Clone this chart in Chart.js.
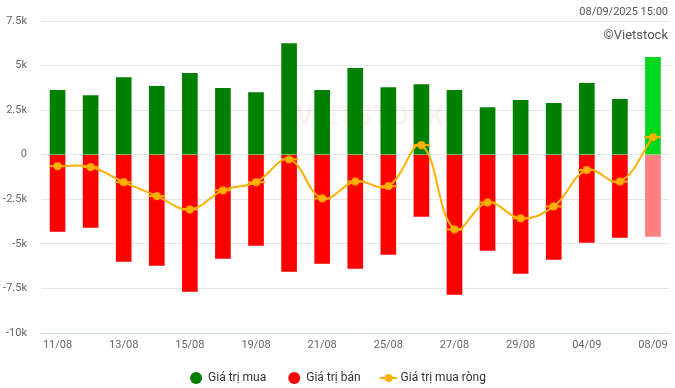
<!DOCTYPE html>
<html>
<head>
<meta charset="utf-8">
<script src="https://cdn.jsdelivr.net/npm/chart.js@4"></script>
<style>
  body { margin: 0; background: #fff; }
  #wrap { width: 675px; height: 388px; position: relative; }
</style>
</head>
<body>
<div id="wrap"><canvas id="chart"></canvas></div>
<script>
const dates = ["11/08", "12/08", "13/08", "14/08", "15/08", "18/08", "19/08", "20/08", "21/08", "22/08",
	"25/08", "26/08", "27/08", "28/08", "29/08", "03/09", "04/09", "05/09", "08/09"];
const buyValues = [3610, 3320, 4330, 3830, 4560, 3720, 3490, 6240, 3610, 4840,
	3770, 3940, 3610, 2650, 3050, 2880, 4000, 3100, 5460];
const sellValues = [-4300, -4080, -5980, -6210, -7670, -5820, -5090, -6540, -6100, -6380,
	-5590, -3460, -7830, -5370, -6660, -5870, -4920, -4640, -4580];
const netValues = [-640, -690, -1540, -2320, -3070, -2000, -1540, -260, -2450, -1500,
	-1760, 540, -4190, -2680, -3570, -2900, -860, -1500, 990];
const seriesNames = ["Giá trị mua", "Giá trị bán", "Giá trị mua ròng"];
const stampText = "08/09/2025 15:00";
const creditText = "©Vietstock";

const last = dates.length - 1;
const buyColors = dates.map((d, i) => (i === last ? "#00d61e" : "#008000"));
const sellColors = dates.map((d, i) => (i === last ? "#ff8080" : "#ff0000"));
const netColors = dates.map((d, i) => (i === last ? "#f26a0c" : "#ffb000"));
const netBorders = dates.map((d, i) => (i === last ? "#b9501c" : "#ffb000"));

// little line + dot icon for the legend
const lineIcon = document.createElement("canvas");
lineIcon.width = 17;
lineIcon.height = 10;
(function () {
	const c = lineIcon.getContext("2d");
	c.strokeStyle = "#ffb000";
	c.lineWidth = 2;
	c.beginPath();
	c.moveTo(0, 5);
	c.lineTo(17, 5);
	c.stroke();
	c.fillStyle = "#ffb000";
	c.beginPath();
	c.arc(8.5, 5, 4, 0, Math.PI * 2);
	c.fill();
})();

const headerPlugin = {
	id: "header",
	beforeInit(chart) {
		// keep the legend short so the plot reaches down like the original
		const fit = chart.legend.fit;
		chart.legend.fit = function () {
			fit.call(this);
			this.height = 38;
		};
	},
	beforeDatasetsDraw(chart) {
		const { ctx, chartArea } = chart;
		ctx.save();
		ctx.globalAlpha = 0.07;
		ctx.font = "bold 28px Roboto";
		ctx.textAlign = "center";
		ctx.textBaseline = "middle";
		ctx.fillStyle = "#d04040";
		ctx.fillText("VIETSTOCK", (chartArea.left + chartArea.right) / 2 + 15, 118);
		ctx.restore();
	},
	afterDraw(chart) {
		const ctx = chart.ctx;
		ctx.save();
		ctx.fillStyle = "#555";
		ctx.textAlign = "right";
		ctx.textBaseline = "middle";
		ctx.font = "11px Roboto";
		ctx.fillText(stampText, 668, 12);
		ctx.font = "13px Roboto";
		ctx.fillText(creditText, 668, 36);
		ctx.restore();
	}
};

new Chart(document.getElementById("chart"), {
	type: "bar",
	data: {
		labels: dates,
		datasets: [
			{
				label: seriesNames[0],
				data: buyValues,
				backgroundColor: buyColors,
				barThickness: 15,
				pointStyle: "circle",
				order: 2
			},
			{
				label: seriesNames[1],
				data: sellValues,
				backgroundColor: sellColors,
				barThickness: 15,
				pointStyle: "circle",
				order: 2
			},
			{
				type: "line",
				label: seriesNames[2],
				data: netValues,
				borderColor: "#ffb000",
				borderWidth: 2,
				backgroundColor: netColors,
				pointBackgroundColor: netColors,
				pointBorderColor: netBorders,
				pointBorderWidth: 1,
				pointRadius: 4.5,
				tension: 0.4,
				pointStyle: lineIcon,
				order: 1
			}
		]
	},
	options: {
		responsive: true,
		maintainAspectRatio: false,
		animation: false,
		layout: { padding: { top: 21, left: 3, right: 2, bottom: 0 } },
		elements: { point: { pointStyle: "circle" } },
		scales: {
			x: {
				stacked: true,
				grid: { display: false, drawTicks: false },
				border: { color: "#ccd6eb" },
				afterFit(scale) {
					scale.height = 17;
				},
				ticks: {
					color: "#666",
					font: { family: "Roboto", size: 11 },
					padding: 6,
					maxRotation: 0,
					autoSkip: false,
					callback: function (v, i) {
						return i % 2 === 0 ? dates[i] : "";
					}
				}
			},
			y: {
				min: -10000,
				max: 7500,
				grid: { color: "#e6e6e6", drawTicks: false },
				border: { display: false },
				afterFit(scale) {
					scale.width = 38;
				},
				ticks: {
					stepSize: 2500,
					color: "#666",
					font: { family: "Roboto", size: 11 },
					padding: 14,
					callback: v => (v === 0 ? "0" : v / 1000 + "k")
				}
			}
		},
		plugins: {
			tooltip: { enabled: false },
			legend: {
				position: "bottom",
				labels: {
					usePointStyle: true,
					boxHeight: 8.5,
					boxWidth: 14,
					padding: 22,
					color: "#333",
					font: { family: "Roboto", size: 12 },
					sort: (a, b) => a.datasetIndex - b.datasetIndex
				}
			}
		}
	},
	plugins: [headerPlugin]
});
</script>
</body>
</html>
